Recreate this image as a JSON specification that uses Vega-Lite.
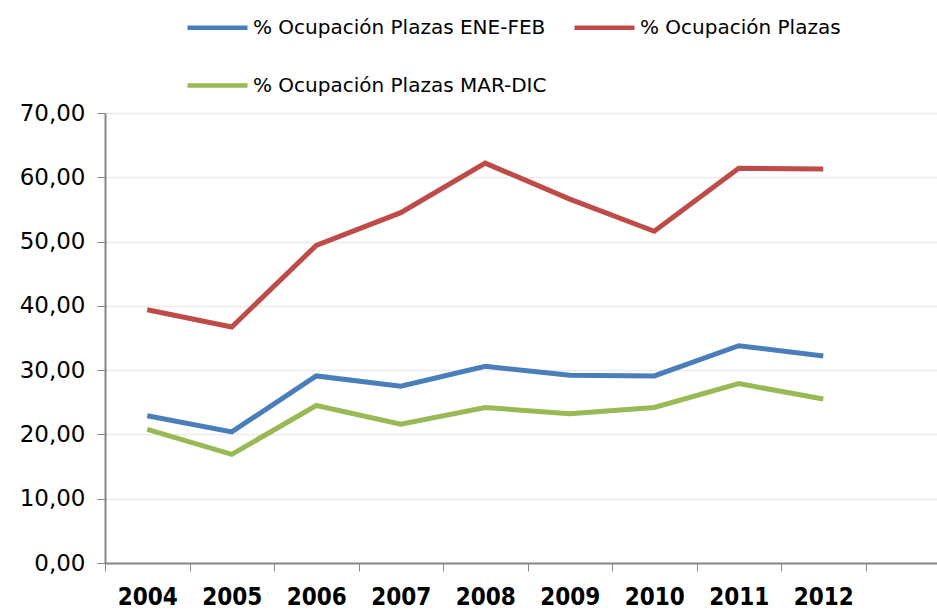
{
  "$schema": "https://vega.github.io/schema/vega-lite/v6.json",
  "width": 832,
  "height": 450,
  "autosize": {"type": "none"},
  "padding": {"left": 105, "top": 113, "right": 0, "bottom": 49},
  "background": "white",
  "config": {
    "view": {"stroke": null},
    "font": "DejaVu Sans"
  },
  "data": {
    "values": [
      {"year": "2004", "serie": "% Ocupación Plazas ENE-FEB", "value": 22.9},
      {"year": "2005", "serie": "% Ocupación Plazas ENE-FEB", "value": 20.4},
      {"year": "2006", "serie": "% Ocupación Plazas ENE-FEB", "value": 29.1},
      {"year": "2007", "serie": "% Ocupación Plazas ENE-FEB", "value": 27.5},
      {"year": "2008", "serie": "% Ocupación Plazas ENE-FEB", "value": 30.6},
      {"year": "2009", "serie": "% Ocupación Plazas ENE-FEB", "value": 29.2},
      {"year": "2010", "serie": "% Ocupación Plazas ENE-FEB", "value": 29.1},
      {"year": "2011", "serie": "% Ocupación Plazas ENE-FEB", "value": 33.8},
      {"year": "2012", "serie": "% Ocupación Plazas ENE-FEB", "value": 32.2},
      {"year": "2004", "serie": "% Ocupación Plazas", "value": 39.4},
      {"year": "2005", "serie": "% Ocupación Plazas", "value": 36.7},
      {"year": "2006", "serie": "% Ocupación Plazas", "value": 49.4},
      {"year": "2007", "serie": "% Ocupación Plazas", "value": 54.5},
      {"year": "2008", "serie": "% Ocupación Plazas", "value": 62.2},
      {"year": "2009", "serie": "% Ocupación Plazas", "value": 56.6},
      {"year": "2010", "serie": "% Ocupación Plazas", "value": 51.6},
      {"year": "2011", "serie": "% Ocupación Plazas", "value": 61.4},
      {"year": "2012", "serie": "% Ocupación Plazas", "value": 61.3},
      {"year": "2004", "serie": "% Ocupación Plazas MAR-DIC", "value": 20.8},
      {"year": "2005", "serie": "% Ocupación Plazas MAR-DIC", "value": 16.9},
      {"year": "2006", "serie": "% Ocupación Plazas MAR-DIC", "value": 24.5},
      {"year": "2007", "serie": "% Ocupación Plazas MAR-DIC", "value": 21.6},
      {"year": "2008", "serie": "% Ocupación Plazas MAR-DIC", "value": 24.2},
      {"year": "2009", "serie": "% Ocupación Plazas MAR-DIC", "value": 23.2},
      {"year": "2010", "serie": "% Ocupación Plazas MAR-DIC", "value": 24.2},
      {"year": "2011", "serie": "% Ocupación Plazas MAR-DIC", "value": 27.9},
      {"year": "2012", "serie": "% Ocupación Plazas MAR-DIC", "value": 25.5}
    ]
  },
  "mark": {"type": "line", "strokeWidth": 5, "strokeJoin": "miter"},
  "encoding": {
    "x": {
      "field": "year",
      "type": "ordinal",
      "scale": {
        "domain": ["2004", "2005", "2006", "2007", "2008", "2009", "2010", "2011", "2012"],
        "paddingInner": 0,
        "paddingOuter": 0.423,
        "align": 0
      },
      "axis": {
        "title": null,
        "labelAngle": 0,
        "tickBand": "extent",
        "tickSize": 8,
        "tickColor": "#868686",
        "domainColor": "#868686",
        "domainWidth": 2,
        "labelFont": "DejaVu Sans Condensed",
        "labelFontWeight": "bold",
        "labelFontSize": 24,
        "labelColor": "#000000",
        "labelPadding": 14,
        "grid": false
      }
    },
    "y": {
      "field": "value",
      "type": "quantitative",
      "scale": {"domain": [0, 70], "nice": false},
      "axis": {
        "title": null,
        "values": [0, 10, 20, 30, 40, 50, 60, 70],
        "format": ".2f",
        "labelExpr": "replace(datum.label, '.', ',')",
        "tickSize": 8,
        "tickColor": "#868686",
        "domainColor": "#868686",
        "domainWidth": 2,
        "gridColor": "#ebebeb",
        "gridWidth": 1.5,
        "labelFontSize": 23,
        "labelColor": "#000000",
        "labelPadding": 12
      }
    },
    "color": {
      "field": "serie",
      "type": "nominal",
      "scale": {
        "domain": ["% Ocupación Plazas ENE-FEB", "% Ocupación Plazas", "% Ocupación Plazas MAR-DIC"],
        "range": ["#4a7ebb", "#be4b48", "#98b954"]
      },
      "legend": {
        "title": null,
        "orient": "none",
        "legendX": 80,
        "legendY": -118,
        "direction": "horizontal",
        "columns": 2,
        "columnPadding": 18,
        "rowPadding": 15,
        "symbolType": "stroke",
        "symbolSize": 3600,
        "symbolStrokeWidth": 4.5,
        "labelFontSize": 20,
        "labelLimit": 0,
        "labelColor": "#000000",
        "labelOffset": 3
      }
    }
  }
}
